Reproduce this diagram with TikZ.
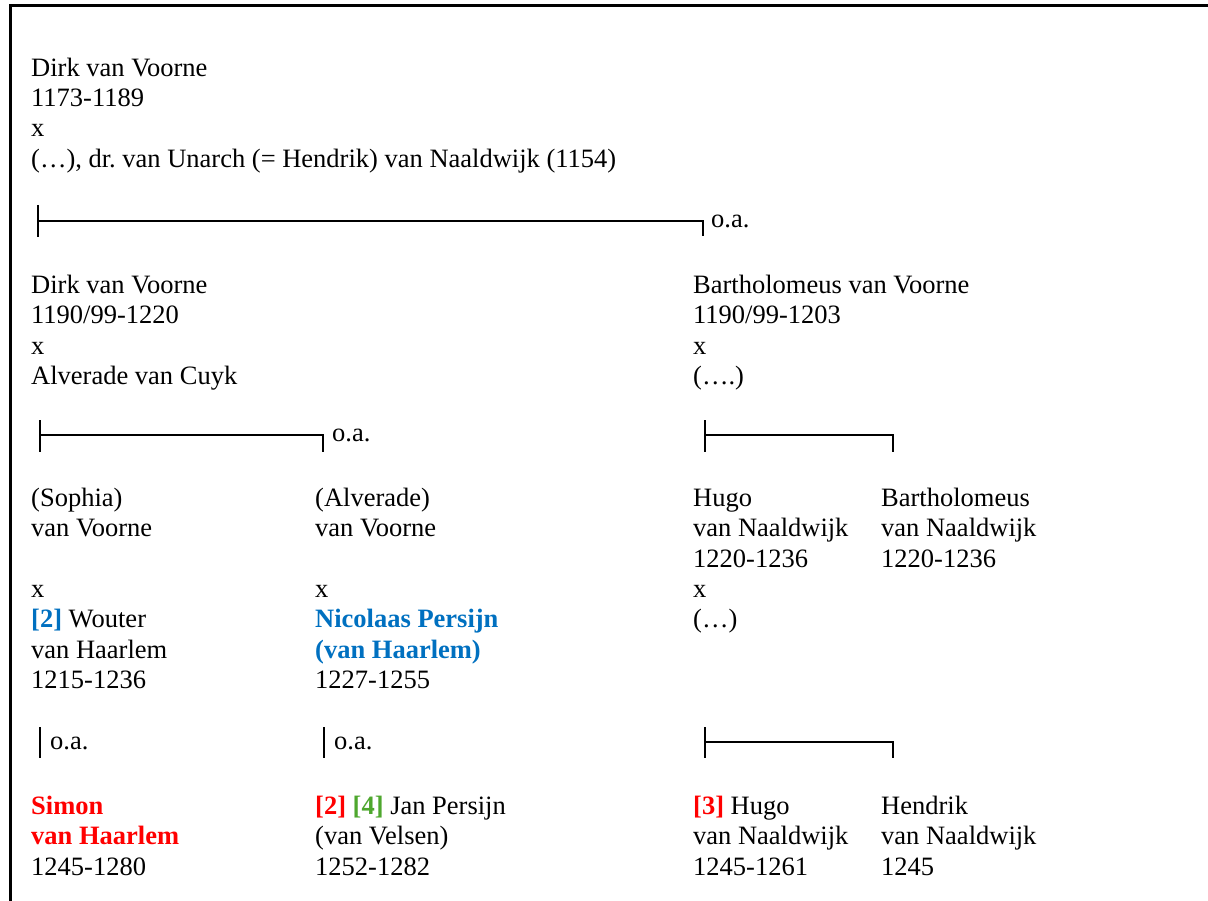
\documentclass[tikz,border=0pt]{standalone}
\usepackage{fontspec}
\setmainfont{Liberation Serif}
\definecolor{wblue}{HTML}{0070C0}
\definecolor{wred}{HTML}{FF0000}
\definecolor{wgreen}{HTML}{4EA72E}
\newcommand\stt{\rule{0pt}{20pt}}
\begin{document}
\frenchspacing
\begin{tikzpicture}[x=1pt,y=-1pt,
  block/.style={anchor=north west, inner sep=0pt, align=left, font=\fontsize{26.5}{30.4}\selectfont},
  oa/.style={anchor=base west, inner sep=0pt, font=\fontsize{26.5}{30.4}\selectfont},
  bar/.style={line width=1.8pt},
  frame/.style={line width=3pt}]
\useasboundingbox (0,0) rectangle (1208,901);
\coordinate (fa) at (10.7,901);
\coordinate (fb) at (10.7,6);
\coordinate (fc) at (1208,6);
\draw[frame] (fa) -- (fb) -- (fc);

% generation 1
\node[block] (g1) at (31,56) {\stt Dirk van Voorne\\1173-1189\\x\\(…), dr. van Unarch (= Hendrik) van Naaldwijk (1154)};

% bracket 1
\coordinate (k1t) at (38,205); \coordinate (k1b) at (38,237);
\coordinate (k1l) at (38,221); \coordinate (k1r) at (703,221); \coordinate (k1d) at (703,236);
\draw[bar] (k1t) -- (k1b);
\draw[bar] (k1l) -- (k1r) -- (k1d);
\node[oa] (oa1) at (711,228) {o.a.};

% generation 2
\node[block] (g2a) at (31,273) {\stt Dirk van Voorne\\1190/99-1220\\x\\Alverade van Cuyk};
\node[block] (g2b) at (693,273) {\stt Bartholomeus van Voorne\\1190/99-1203\\x\\(….)};

% bracket 2 left
\coordinate (k2t) at (40,420); \coordinate (k2b) at (40,452);
\coordinate (k2l) at (40,435); \coordinate (k2r) at (323,435); \coordinate (k2d) at (323,452);
\draw[bar] (k2t) -- (k2b);
\draw[bar] (k2l) -- (k2r) -- (k2d);
\node[oa] (oa2) at (332,441) {o.a.};

% bracket 2 right
\coordinate (k3t) at (705,420); \coordinate (k3b) at (705,452);
\coordinate (k3l) at (705,435); \coordinate (k3r) at (893,435); \coordinate (k3d) at (893,452);
\draw[bar] (k3t) -- (k3b);
\draw[bar] (k3l) -- (k3r) -- (k3d);

% generation 3
\node[block] (g3a) at (31,486) {\stt (Sophia)\\van Voorne\\~\\x\\\textbf{\color{wblue}[2]} Wouter\\van Haarlem\\1215-1236};
\node[block] (g3b) at (315,486) {\stt (Alverade)\\van Voorne\\~\\x\\\textbf{\color{wblue}Nicolaas Persijn}\\\textbf{\color{wblue}(van Haarlem)}\\1227-1255};
\node[block] (g3c) at (693,486) {\stt Hugo\\van Naaldwijk\\1220-1236\\x\\(…)};
\node[block] (g3d) at (881,486) {\stt Bartholomeus\\van Naaldwijk\\1220-1236};

% bracket 3
\coordinate (k4t) at (40,727); \coordinate (k4b) at (40,758);
\draw[bar] (k4t) -- (k4b);
\node[oa] (oa4) at (50,749) {o.a.};
\coordinate (k5t) at (324,727); \coordinate (k5b) at (324,758);
\draw[bar] (k5t) -- (k5b);
\node[oa] (oa5) at (334,749) {o.a.};
\coordinate (k6t) at (705,727); \coordinate (k6b) at (705,758);
\coordinate (k6l) at (705,742); \coordinate (k6r) at (893,742); \coordinate (k6d) at (893,758);
\draw[bar] (k6t) -- (k6b);
\draw[bar] (k6l) -- (k6r) -- (k6d);

% generation 4
\node[block] (g4a) at (31,794) {\stt\textbf{\color{wred}Simon}\\\textbf{\color{wred}van Haarlem}\\1245-1280};
\node[block] (g4b) at (315,794) {\stt\textbf{\color{wred}[2]} \textbf{\color{wgreen}[4]} Jan Persijn\\(van Velsen)\\1252-1282};
\node[block] (g4c) at (693,794) {\stt\textbf{\color{wred}[3]} Hugo\\van Naaldwijk\\1245-1261};
\node[block] (g4d) at (881,794) {\stt Hendrik\\van Naaldwijk\\1245};
\end{tikzpicture}
\end{document}
